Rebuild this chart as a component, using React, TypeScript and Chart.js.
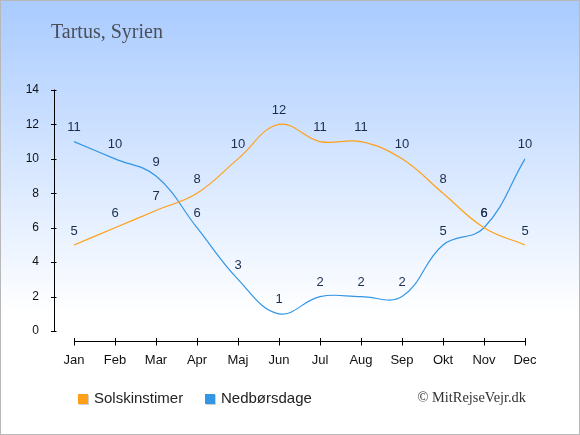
import { useEffect, useRef } from 'react';
import { Chart, registerables, type Plugin } from 'chart.js';

Chart.register(...registerables);

const months = ['Jan', 'Feb', 'Mar', 'Apr', 'Maj', 'Jun', 'Jul', 'Aug', 'Sep', 'Okt', 'Nov', 'Dec'];
const sunHours = [5, 6, 7, 8, 10, 12, 11, 11, 10, 8, 6, 5];
const rainDays = [11, 10, 9, 6, 3, 1, 2, 2, 2, 5, 6, 10];
const yTicks = [0, 2, 4, 6, 8, 10, 12, 14];

const ORANGE = 'rgb(255, 160, 25)';
const BLUE = 'rgb(50, 150, 230)';
const LABEL = '#1b2c4d';

// background, title, custom axes, value labels, legend, credit
const decorPlugin: Plugin<'line'> = {
  id: 'decor',
  beforeDraw(chart) {
    const { ctx, width, height } = chart;
    ctx.save();
    const g = ctx.createLinearGradient(0, 0, 0, height);
    g.addColorStop(0, '#a9cbff');
    g.addColorStop(0.72, '#ffffff');
    g.addColorStop(1, '#ffffff');
    ctx.fillStyle = g;
    ctx.fillRect(0, 0, width, height);
    ctx.strokeStyle = '#b8b8b8';
    ctx.lineWidth = 1;
    ctx.strokeRect(0.5, 0.5, width - 1, height - 1);

    ctx.fillStyle = '#4a4f5a';
    ctx.font = '20px "Liberation Serif"';
    ctx.textBaseline = 'alphabetic';
    ctx.fillText('Tartus, Syrien', 51, 38);
    ctx.restore();
  },
  afterDatasetsDraw(chart) {
    const { ctx } = chart;
    const x = chart.scales.x;
    const y = chart.scales.y;
    ctx.save();
    ctx.strokeStyle = '#000';
    ctx.lineWidth = 1;

    // y axis
    const ax = 54.5;
    ctx.beginPath();
    ctx.moveTo(ax, Math.round(y.getPixelForValue(0)) + 0.5);
    ctx.lineTo(ax, Math.round(y.getPixelForValue(14)) - 0.5);
    for (const v of yTicks) {
      const py = Math.round(y.getPixelForValue(v)) + 0.5;
      ctx.moveTo(ax - 3.5, py);
      ctx.lineTo(ax + 2, py);
    }
    // x axis
    const ay = Math.round(chart.chartArea.bottom) + 0.5;
    ctx.moveTo(x.getPixelForValue(0), ay);
    ctx.lineTo(x.getPixelForValue(months.length - 1), ay);
    months.forEach((_, i) => {
      const px = Math.round(x.getPixelForValue(i)) + 0.5;
      ctx.moveTo(px, ay - 3.5);
      ctx.lineTo(px, ay + 4);
    });
    ctx.stroke();

    // value labels
    ctx.fillStyle = LABEL;
    ctx.font = '13px "Liberation Sans"';
    ctx.textAlign = 'center';
    ctx.textBaseline = 'middle';
    chart.data.datasets.forEach((ds, di) => {
      chart.getDatasetMeta(di).data.forEach((pt, i) => {
        ctx.fillText(String(ds.data[i]), pt.x, pt.y - 14);
      });
    });

    // legend
    const items = [
      { label: 'Solskinstimer', color: ORANGE, x: 78 },
      { label: 'Nedbørsdage', color: BLUE, x: 205 },
    ];
    ctx.font = '15px "Liberation Sans"';
    ctx.textAlign = 'left';
    for (const it of items) {
      ctx.fillStyle = 'rgba(160,160,160,0.5)';
      ctx.fillRect(it.x + 1, 395, 10, 10);
      ctx.fillStyle = it.color;
      ctx.fillRect(it.x, 394, 10, 10);
      ctx.fillStyle = '#222';
      ctx.fillText(it.label, it.x + 16, 399);
    }

    ctx.fillStyle = '#333';
    ctx.font = '14.4px "Liberation Serif"';
    ctx.textAlign = 'right';
    ctx.fillText('© MitRejseVejr.dk', 526, 398);
    ctx.restore();
  },
};

export default function App() {
  const canvasRef = useRef<HTMLCanvasElement>(null);
  const chartRef = useRef<Chart | null>(null);

  useEffect(() => {
    if (!canvasRef.current) return;
    if (chartRef.current) chartRef.current.destroy();

    chartRef.current = new Chart(canvasRef.current, {
      type: 'line',
      data: {
        labels: months,
        datasets: [
          {
            label: 'Solskinstimer',
            data: sunHours,
            borderColor: ORANGE,
            backgroundColor: ORANGE,
            borderWidth: 1.2,
            pointRadius: 0,
            tension: 0.4,
          },
          {
            label: 'Nedbørsdage',
            data: rainDays,
            borderColor: BLUE,
            backgroundColor: BLUE,
            borderWidth: 1.2,
            pointRadius: 0,
            tension: 0.4,
          },
        ],
      },
      options: {
        responsive: false,
        animation: false,
        devicePixelRatio: 1,
        layout: { padding: { left: 0, right: 55, top: 90, bottom: 0 } },
        plugins: {
          legend: { display: false },
          tooltip: { enabled: false },
        },
        scales: {
          x: {
            offset: false,
            grid: { display: false },
            border: { display: false },
            ticks: {
              color: '#111',
              font: { family: 'Liberation Sans', size: 13 },
              padding: 4,
              maxRotation: 0,
              autoSkip: false,
            },
            afterFit: (s) => {
              s.height = 94;
            },
          },
          y: {
            min: -0.58,
            max: 14,
            grid: { display: false },
            border: { display: false },
            ticks: {
              color: '#111',
              font: { family: 'Liberation Sans', size: 12 },
              padding: 27,
            },
            afterBuildTicks: (s) => {
              s.ticks = yTicks.map((v) => ({ value: v }));
            },
            afterFit: (s) => {
              s.width = 74;
            },
          },
        },
      },
      plugins: [decorPlugin],
    });

    return () => {
      if (chartRef.current) {
        chartRef.current.destroy();
        chartRef.current = null;
      }
    };
  }, []);

  return (
    <div style={{ position: 'fixed', left: 0, top: 0, width: 580, height: 435 }}>
      <canvas ref={canvasRef} width={580} height={435} />
    </div>
  );
}
